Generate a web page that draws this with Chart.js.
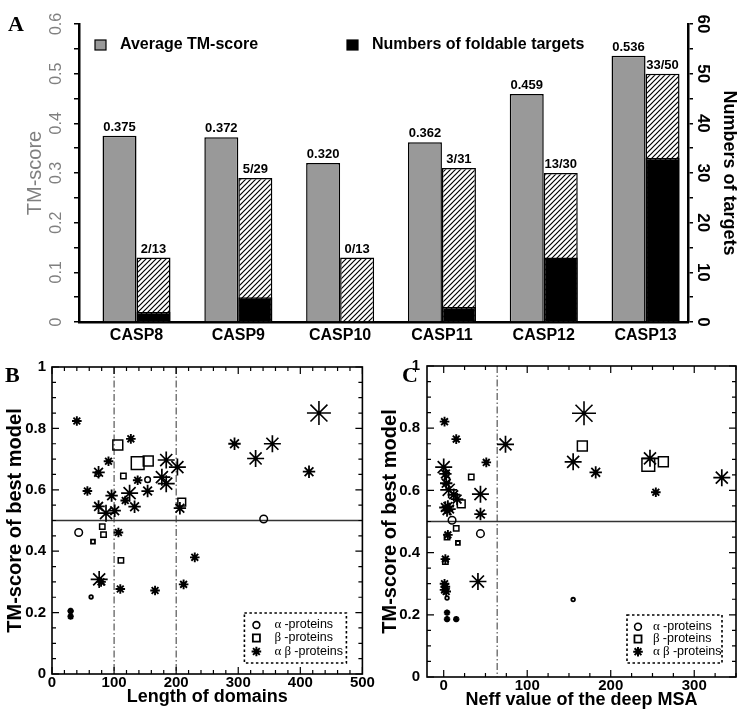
<!DOCTYPE html>
<html>
<head>
<meta charset="utf-8">
<script src="https://cdn.jsdelivr.net/npm/chart.js@4"></script>
<style>
  body { margin: 0; background: #fff; }
  #wrap { position: relative; width: 753px; height: 715px; }
  canvas { position: absolute; }
  .tag { position: absolute; font: bold 22px/22px "Liberation Serif", serif; color: #000; }
</style>
</head>
<body>
<div id="wrap">
  <canvas id="chartA" width="753" height="345" style="left:0;top:0"></canvas>
  <canvas id="chartB" width="376" height="370" style="left:0;top:345px"></canvas>
  <canvas id="chartC" width="377" height="370" style="left:376px;top:345px"></canvas>
  <div class="tag" style="left:8px;top:13px">A</div>
  <div class="tag" style="left:5px;top:364px">B</div>
  <div class="tag" style="left:402px;top:364px">C</div>
</div>
<script>
// A: CASP rounds
const categories = ['CASP8', 'CASP9', 'CASP10', 'CASP11', 'CASP12', 'CASP13'];
const avgTM = [0.375, 0.372, 0.320, 0.362, 0.459, 0.536];
const totalTargets = [13, 29, 13, 31, 30, 50];
const foldable = [2, 5, 0, 3, 13, 33];

// B: length of domains vs TM-score (size = marker class 1..5)
const bAlphaLen = [74, 154, 43, 341, 63];
const bAlphaTM = [0.652, 0.633, 0.461, 0.505, 0.251];
const bAlphaSize = [2, 2, 3, 3, 1];
const bBetaLen = [106, 138, 155, 115, 209, 81, 83, 66, 111];
const bBetaTM = [0.746, 0.687, 0.694, 0.645, 0.56, 0.48, 0.454, 0.431, 0.37];
const bBetaSize = [4, 5, 4, 2, 3, 2, 2, 1, 2];
const bABLen = [40, 127, 91, 75, 184, 202, 138, 177, 184, 57, 96, 125, 154, 118, 75, 133, 87, 101, 206, 107,
  230, 76, 79, 110, 166, 212, 30, 30, 294, 328, 355, 414, 430];
const bABTM = [0.824, 0.766, 0.693, 0.657, 0.697, 0.674, 0.631, 0.641, 0.62, 0.596, 0.581, 0.589, 0.596, 0.565, 0.546, 0.545, 0.524, 0.532, 0.54, 0.461,
  0.38, 0.308, 0.30, 0.277, 0.272, 0.292, 0.205, 0.187, 0.75, 0.702, 0.75, 0.659, 0.85];
const bABSize = [2, 2, 2, 3, 4, 4, 2, 4, 4, 2, 3, 4, 3, 2, 3, 3, 4, 3, 3, 2,
  2, 4, 2, 2, 2, 2, 1, 1, 3, 4, 4, 3, 5];

// C: Neff of deep MSA vs TM-score
const cAlphaNeff = [3, 4, 10, 44, 4, 155];
const cAlphaTM = [0.652, 0.634, 0.504, 0.461, 0.254, 0.249];
const cAlphaSize = [2, 2, 3, 3, 1, 1];
const cBetaNeff = [166, 245, 263, 33, 21, 15, 4, 17, 2];
const cBetaTM = [0.743, 0.682, 0.692, 0.643, 0.557, 0.478, 0.45, 0.431, 0.371];
const cBetaSize = [4, 5, 4, 2, 3, 2, 2, 1, 2];
const cABNeff = [1, 15, 51, 74, 168, 155, 182, 247, 333, 254, 0, 2, 3, 6, 12, 16, 44, 44, 2, 5,
  7, 4, 5, 2, 41, 1, 2, 1, 3, 4, 4, 15];
const cABTM = [0.821, 0.765, 0.69, 0.748, 0.848, 0.692, 0.658, 0.703, 0.641, 0.594, 0.675, 0.653, 0.623, 0.602, 0.586, 0.572, 0.588, 0.524, 0.545, 0.548,
  0.54, 0.535, 0.457, 0.379, 0.307, 0.30, 0.29, 0.28, 0.275, 0.207, 0.186, 0.186];
const cABSize = [2, 2, 2, 4, 5, 4, 3, 4, 4, 2, 4, 3, 3, 4, 3, 3, 4, 3, 3, 3,
  3, 3, 2, 2, 4, 2, 2, 2, 2, 1, 1, 1];

const classLabels = ['α -proteins', 'β -proteins', 'α β -proteins'];
const tmCutoff = [0.5];
const lengthCutoffs = [100, 200];
const neffCutoffs = [64];

const SANS = '"Liberation Sans", Arial, sans-serif';
const SERIF = '"Liberation Serif", "Times New Roman", serif';
Chart.defaults.font.family = SANS;
Chart.defaults.color = '#000';

// marker radius / line width per size class
const circleR = [0, 1.8, 2.8, 3.8, 5, 6];
const rectR = [0, 2.8, 3.8, 5.5, 7, 9];
const starR = [0, 3.2, 4.8, 6.2, 8.5, 12];
const starW = [0, 2, 1.9, 1.8, 1.7, 1.6];
const openW = [0, 1.8, 1.5, 1.5, 1.5, 1.5];

function hatch(ctx) {
  const tile = document.createElement('canvas');
  tile.width = 5; tile.height = 5;
  const g = tile.getContext('2d');
  g.fillStyle = '#fff';
  g.fillRect(0, 0, 5, 5);
  g.strokeStyle = '#000';
  g.lineWidth = 1.2;
  g.beginPath();
  g.moveTo(0, 5); g.lineTo(5, 0);
  g.moveTo(-1, 1); g.lineTo(1, -1);
  g.moveTo(4, 6); g.lineTo(6, 4);
  g.stroke();
  return ctx.createPattern(tile, 'repeat');
}

const pts = arr => arr.map((v, i) => ({x: i, y: v}));

// labels above the bars
const barLabels = {
  id: 'barLabels',
  afterDatasetsDraw(chart) {
    const ctx = chart.ctx;
    ctx.save();
    ctx.font = 'bold 13px ' + SANS;
    ctx.fillStyle = '#000';
    ctx.textAlign = 'center';
    ctx.textBaseline = 'bottom';
    chart.getDatasetMeta(0).data.forEach((bar, i) => ctx.fillText(avgTM[i].toFixed(3), bar.x, bar.y - 2));
    chart.getDatasetMeta(2).data.forEach((bar, i) => ctx.fillText(foldable[i] + '/' + totalTargets[i], bar.x, bar.y - 2));
    ctx.restore();
  }
};

// legend inside the plot of A
const barLegend = {
  id: 'barLegend',
  afterDraw(chart) {
    const ctx = chart.ctx;
    const spots = [95, 347];
    ctx.save();
    ctx.font = 'bold 16px ' + SANS;
    ctx.textBaseline = 'middle';
    [0, 1].forEach((d, k) => {
      const ds = chart.data.datasets[d];
      ctx.fillStyle = ds.backgroundColor;
      ctx.fillRect(spots[k], 40, 11, 10);
      ctx.lineWidth = 1.2;
      ctx.strokeStyle = '#000';
      ctx.strokeRect(spots[k], 40, 11, 10);
      ctx.fillStyle = '#000';
      ctx.fillText(ds.label, spots[k] + 25, 45);
    });
    ctx.restore();
  }
};

const ctxA = document.getElementById('chartA').getContext('2d');
new Chart(ctxA, {
  type: 'bar',
  data: {
    datasets: [
      {label: 'Average TM-score', data: pts(avgTM), yAxisID: 'y', stack: 'tm', order: 0,
        backgroundColor: '#999999', borderColor: '#000', borderWidth: 1.5},
      {label: 'Numbers of foldable targets', data: pts(foldable), yAxisID: 'y2', stack: 'num', order: 1,
        backgroundColor: '#000', borderColor: '#000', borderWidth: 1.5},
      {label: 'Numbers of targets', data: pts(totalTargets), yAxisID: 'y2', stack: 'num', order: 2,
        backgroundColor: hatch(ctxA), borderColor: '#000', borderWidth: 1.5}
    ]
  },
  options: {
    responsive: false,
    animation: false,
    events: [],
    layout: {padding: {top: 24, left: 0, right: 0, bottom: 0}},
    datasets: {bar: {categoryPercentage: 0.668, barPercentage: 1}},
    plugins: {legend: {display: false}, tooltip: {enabled: false}},
    scales: {
      x: {
        type: 'linear', offset: false, min: -0.565, max: 5.417,
        afterFit: s => { s.height = 23; },
        ticks: {stepSize: 1, includeBounds: false, autoSkip: false, maxRotation: 0, padding: 4,
          font: {size: 16, weight: 'bold'}, callback: v => categories[v] ?? ''},
        grid: {display: false, drawTicks: false},
        border: {color: '#000', width: 2.5}
      },
      y: {
        position: 'left', min: 0, max: 0.6,
        afterFit: s => { s.width = 79; },
        ticks: {stepSize: 0.05, autoSkip: false, minRotation: 90, maxRotation: 90, crossAlign: 'center', padding: 6,
          color: '#808080', font: {size: 16},
          callback: v => { const k = Math.round(v * 20); return k % 2 ? '' : (k === 0 ? '0' : (k / 20).toFixed(1)); }},
        grid: {drawOnChartArea: false, tickLength: 5, color: '#000', lineWidth: 1.5},
        border: {color: '#000', width: 2.5},
        title: {display: true, text: 'TM-score', color: '#808080', font: {size: 20}, padding: {top: 23, bottom: 0}}
      },
      y2: {
        position: 'right', min: 0, max: 60, stacked: false,
        afterFit: s => { s.width = 65; },
        ticks: {stepSize: 5, autoSkip: false, minRotation: -90, crossAlign: 'center', padding: 0,
          font: {size: 17, weight: 'bold'}, callback: v => (v % 10 === 0 ? String(v) : '')},
        grid: {drawOnChartArea: false, tickLength: 5, color: '#000', lineWidth: 1.5},
        border: {color: '#000', width: 2.5},
        title: {display: true, text: 'Numbers of targets', font: {size: 18, weight: 'bold'}, padding: {top: 13, bottom: 0}}
      }
    }
  },
  plugins: [barLabels, barLegend]
});

function marker(ctx, style, x, y, r) {
  ctx.beginPath();
  if (style === 'circle') {
    ctx.arc(x, y, r, 0, Math.PI * 2);
  } else if (style === 'rect') {
    const s = r * Math.SQRT1_2;
    ctx.rect(x - s, y - s, 2 * s, 2 * s);
  } else {
    for (let k = 0; k < 4; k++) {
      const t = k * Math.PI / 4;
      ctx.moveTo(x - r * Math.cos(t), y - r * Math.sin(t));
      ctx.lineTo(x + r * Math.cos(t), y + r * Math.sin(t));
    }
  }
  ctx.stroke();
}

// reference lines, inward ticks and box frame
const frame = {
  id: 'frame',
  beforeDatasetsDraw(chart, args, opts) {
    const {ctx, chartArea: a, scales: {x, y}} = chart;
    ctx.save();
    ctx.strokeStyle = '#333';
    ctx.lineWidth = 1;
    ctx.setLineDash([7, 2.5, 1.5, 2.5]);
    opts.xCuts.forEach(v => {
      const px = x.getPixelForValue(v);
      ctx.beginPath(); ctx.moveTo(px, a.top); ctx.lineTo(px, a.bottom); ctx.stroke();
    });
    ctx.setLineDash([]);
    ctx.lineWidth = 1.3;
    opts.yCuts.forEach(v => {
      const py = y.getPixelForValue(v);
      ctx.beginPath(); ctx.moveTo(a.left, py); ctx.lineTo(a.right, py); ctx.stroke();
    });
    ctx.restore();
  },
  afterDraw(chart, args, opts) {
    const {ctx, chartArea: a, scales: {x, y}} = chart;
    ctx.save();
    ctx.strokeStyle = '#000';
    ctx.lineWidth = 1.2;
    ctx.beginPath();
    for (let v = Math.ceil(x.min / opts.xMinor) * opts.xMinor; v <= x.max + 1e-9; v += opts.xMinor) {
      const px = x.getPixelForValue(v);
      const len = Math.abs(v % 100) < 1e-6 ? 7 : 4;
      ctx.moveTo(px, a.bottom); ctx.lineTo(px, a.bottom - len);
      ctx.moveTo(px, a.top); ctx.lineTo(px, a.top + len);
    }
    for (let k = 0; k <= 20; k++) {
      const py = y.getPixelForValue(k / 20);
      const len = k % 4 === 0 ? 7 : 4;
      ctx.moveTo(a.left, py); ctx.lineTo(a.left + len, py);
      ctx.moveTo(a.right, py); ctx.lineTo(a.right - len, py);
    }
    ctx.stroke();
    ctx.lineWidth = 1.6;
    ctx.strokeRect(a.left, a.top, a.right - a.left, a.bottom - a.top);
    ctx.restore();
  }
};

// dotted legend box with the protein classes
const classLegend = {
  id: 'classLegend',
  afterDraw(chart, args, o) {
    const {ctx, chartArea: a} = chart;
    const x0 = a.right - o.right - o.width;
    const y0 = a.bottom - o.bottom - o.height;
    ctx.save();
    ctx.strokeStyle = '#000';
    ctx.lineWidth = 1.6;
    ctx.setLineDash([2.5, 2.5]);
    ctx.strokeRect(x0, y0, o.width, o.height);
    ctx.setLineDash([]);
    ctx.textBaseline = 'middle';
    ctx.fillStyle = '#000';
    chart.data.datasets.forEach((ds, i) => {
      const cy = y0 + o.rows[i];
      ctx.lineWidth = [1.6, 1.8, 2][i];
      marker(ctx, ds.pointStyle, x0 + o.mark, cy, [3.4, 5, 4.8][i]);
      const [greek, rest] = ds.label.split(' -');
      let tx = x0 + o.text;
      ctx.font = '13px ' + SERIF;
      ctx.fillText(greek, tx, cy);
      tx += ctx.measureText(greek + ' ').width;
      ctx.font = '12.5px ' + SANS;
      ctx.fillText('-' + rest, tx, cy);
    });
    ctx.restore();
  }
};

function classSet(label, style, xs, ys, sizes, radii, widths) {
  return {
    label,
    data: xs.map((x, i) => ({x, y: ys[i]})),
    pointStyle: style,
    pointRadius: c => radii[sizes[c.dataIndex]],
    pointBorderWidth: c => widths[sizes[c.dataIndex]],
    pointBorderColor: '#000',
    pointBackgroundColor: 'rgba(0,0,0,0)',
    showLine: false
  };
}

function scatterPanel(id, g) {
  new Chart(document.getElementById(id), {
    type: 'scatter',
    data: {datasets: g.sets},
    options: {
      responsive: false,
      animation: false,
      events: [],
      layout: {padding: {top: g.top, right: g.right, left: 0, bottom: 0}},
      plugins: {
        legend: {display: false},
        tooltip: {enabled: false},
        frame: {xCuts: g.xCuts, yCuts: tmCutoff, xMinor: g.xMinor},
        classLegend: g.legend
      },
      scales: {
        x: {
          type: 'linear', min: g.xMin, max: g.xMax,
          afterFit: s => { s.height = g.xh; },
          ticks: {stepSize: 100, includeBounds: false, maxRotation: 0, padding: 0, font: {size: 15, weight: 'bold'}},
          grid: {display: false, drawTicks: false},
          border: {display: false},
          title: {display: true, text: g.xTitle, font: {size: 18, weight: 'bold'}, padding: {top: 0, bottom: g.xpb}}
        },
        y: {
          min: 0, max: 1,
          afterFit: s => { s.width = g.yw; },
          ticks: {stepSize: 0.2, padding: g.ypad, font: {size: 15, weight: 'bold'},
            callback: v => (v === 0 || v === 1 ? String(v) : v.toFixed(1))},
          grid: {display: false, drawTicks: false},
          border: {display: false},
          title: {display: true, text: 'TM-score of best model', font: {size: 20, weight: 'bold'}, padding: {top: g.ypt, bottom: 0}}
        }
      }
    },
    plugins: [frame, classLegend]
  });
}

scatterPanel('chartB', {
  sets: [
    classSet(classLabels[0], 'circle', bAlphaLen, bAlphaTM, bAlphaSize, circleR, openW),
    classSet(classLabels[1], 'rect', bBetaLen, bBetaTM, bBetaSize, rectR, openW),
    classSet(classLabels[2], 'star', bABLen, bABTM, bABSize, starR, starW)
  ],
  xMin: 0, xMax: 500, xMinor: 20, xCuts: lengthCutoffs,
  xTitle: 'Length of domains',
  top: 22, right: 13, xh: 41, xpb: 7, yw: 52, ypad: 6, ypt: 3,
  legend: {right: 16, bottom: 11, width: 102, height: 50, rows: [12, 25, 38.5], mark: 12, text: 30}
});

scatterPanel('chartC', {
  sets: [
    classSet(classLabels[0], 'circle', cAlphaNeff, cAlphaTM, cAlphaSize, circleR, openW),
    classSet(classLabels[1], 'rect', cBetaNeff, cBetaTM, cBetaSize, rectR, openW),
    classSet(classLabels[2], 'star', cABNeff, cABTM, cABSize, starR, starW)
  ],
  xMin: -20, xMax: 350, xMinor: 25, xCuts: neffCutoffs,
  xTitle: 'Neff value of the deep MSA',
  top: 21, right: 17, xh: 38, xpb: 4, yw: 51, ypad: 7, ypt: 2,
  legend: {right: 14, bottom: 14, width: 95, height: 48, rows: [11.7, 24, 36.7], mark: 11, text: 26}
});
</script>
</body>
</html>
